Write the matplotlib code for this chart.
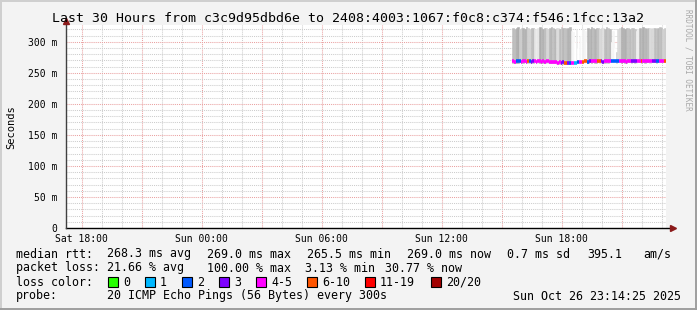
import matplotlib
matplotlib.use('Agg')
import matplotlib.pyplot as plt
from matplotlib.lines import Line2D
from matplotlib.patches import Rectangle
import numpy as np

W, H = 697, 310
MONO = 'DejaVu Sans Mono'

# ---------------- data ----------------
title = "Last 30 Hours from c3c9d95dbd6e to 2408:4003:1067:f0c8:c374:f546:1fcc:13a2"
view_start_h = 17.225          # hours since Sat 00:00 (left edge of graph)
view_len_h = 30.0
first_sample_h = 39.575        # hours since Sat 00:00 of first sample
step_min = 5

median_ms = [268.4, 268.2, 268.5, 268.3, 268.6, 268.1, 268.4, 268.7, 268.2, 268.5,
             268.3, 268.0, 268.4, 268.6, 268.2, 268.5, 268.3, 268.1, 268.4, 268.2,
             268.6, 268.3, 268.0, 267.8, 267.5, 267.2, 266.8, 266.5, 266.7, 266.3,
             266.6, 266.2, 266.0, 265.8, 266.1, 265.7, 265.5, 265.9, 266.2, 266.6,
             267.0, 267.5, 268.0, 268.3, 268.5, 268.2, 268.6, 268.4, 268.7, 268.3,
             268.5, 268.8, 268.4, 268.6, 268.2, 268.5, 268.7, 268.3, 268.6, 268.4,
             268.8, 268.5, 268.3, 268.6, 268.9, 268.4, 268.7, 268.5, 268.2, 268.6,
             268.8, 268.4, 268.7, 268.5, 268.3, 268.6, 268.9, 268.5, 268.7, 268.4,
             268.6, 268.8, 268.5, 268.7, 268.9, 268.6, 268.4, 268.8, 268.7, 268.9,
             269.0, 269.0]

loss_count = [4, 4, 2, 2, 2, 5, 4, 5, 4, 7,
              2, 3, 3, 4, 5, 4, 4, 5, 4, 4,
              5, 4, 4, 5, 4, 5, 4, 4, 5, 3,
              3, 7, 8, 3, 2, 4, 5, 1, 1, 2,
              4, 4, 8, 7, 8, 2, 3, 4, 5, 4,
              5, 7, 7, 3, 3, 5, 4, 5, 4, 2,
              2, 2, 2, 2, 4, 5, 5, 4, 5, 4,
              4, 3, 3, 3, 3, 4, 5, 8, 4, 5,
              4, 4, 5, 4, 3, 3, 2, 2, 4, 5,
              4, 6]

smoke_top_ms = [322, 321, 322, 323, 321, 322, 322, 321, 323, 322,
                321, 322, 322, 320, 321, 322, 323, 322, 321, 322,
                322, 321, 322, 323, 322, 321, 322, 322, 321, 323,
                322, 322, 321, 322, 323, 318, 316, 300, 320, 290,
                310, 319, 321, 318, 300, 322, 321, 323, 322, 321,
                322, 322, 321, 322, 322, 321, 323, 322, 321, 300,
                318, 290, 284, 321, 322, 323, 322, 321, 322, 322,
                321, 322, 322, 321, 318, 320, 322, 321, 323, 322,
                321, 322, 322, 321, 322, 322, 321, 322, 323, 322,
                321, 322]

smoke_gray = [0.74, 0.74, 0.68, 0.68, 0.80, 0.80, 0.70, 0.70, 0.70, 0.82,
              0.82, 0.74, 0.74, 0.90, 0.92, 0.90, 0.68, 0.72, 0.70, 0.75,
              0.84, 0.84, 0.72, 0.70, 0.76, 0.72, 0.86, 0.86, 0.74, 0.78,
              0.72, 0.76, 0.74, 0.70, 0.70, 0.94, 0.97, 1.00, 0.93, 1.00,
              0.97, 1.00, 0.94, 0.96, 1.00, 0.70, 0.72, 0.68, 0.74, 0.70,
              0.72, 0.76, 0.85, 0.84, 0.88, 0.74, 0.72, 0.76, 0.73, 1.00,
              0.96, 1.00, 0.80, 0.86, 0.84, 0.68, 0.70, 0.69, 0.71, 0.76,
              0.74, 0.78, 0.75, 0.77, 0.95, 0.93, 0.70, 0.73, 0.69, 0.72,
              0.70, 0.74, 0.86, 0.84, 0.85, 0.74, 0.76, 0.72, 0.75, 0.73,
              0.82, 0.80]

loss_labels = ['0', '1', '2', '3', '4-5', '6-10', '11-19', '20/20']
loss_upper = [0, 1, 2, 3, 5, 10, 19, 20]
loss_colors = ['#26ff00', '#00b8ff', '#0059ff', '#7e00ff', '#ff00ff', '#ff5500', '#ff0000', '#a10000']

x_tick_hours = [18, 24, 30, 36, 42]
x_tick_labels = ['Sat 18:00', 'Sun 00:00', 'Sun 06:00', 'Sun 12:00', 'Sun 18:00']
y_ticks = [0, 50, 100, 150, 200, 250, 300]
y_tick_labels = ['0', '50 m', '100 m', '150 m', '200 m', '250 m', '300 m']
y_max = 327

legend_rows = [
    [(16, 'median rtt:'), (107, '268.3 ms avg'), (207, '269.0 ms max'), (307, '265.5 ms min'),
     (407, '269.0 ms now'), (507, '0.7 ms sd'), (587, '395.1'), (643, 'am/s')],
    [(16, 'packet loss:'), (107, '21.66 % avg'), (207, '100.00 % max'), (305, '3.13 % min'),
     (385, '30.77 % now')],
    [(16, 'loss color:')],
    [(16, 'probe:'), (107, '20 ICMP Echo Pings (56 Bytes) every 300s'), (513, 'Sun Oct 26 23:14:25 2025')],
]
legend_box_x = [108, 145, 182, 219, 256, 307, 365, 431]

# ---------------- figure ----------------
fig = plt.figure(figsize=(W / 100, H / 100), dpi=100)
fig.patch.set_facecolor('#f3f3f3')


def fx(x):
    return x / W


def fy(y):
    return 1 - y / H


ax_l, ax_r, ax_t, ax_b = 66, 666, 25, 228
ax = fig.add_axes([fx(ax_l), fy(ax_b), (ax_r - ax_l) / W, (ax_b - ax_t) / H])
ax.set_facecolor('white')
ax.set_xlim(view_start_h, view_start_h + view_len_h)
ax.set_ylim(0, y_max)
for s in ax.spines.values():
    s.set_visible(False)

# grid
dot = (0, (1, 1))
minor_col = '#cdcdcd'
major_col = '#eaa2a2'
for h in np.arange(np.ceil(view_start_h), view_start_h + view_len_h, 1.0):
    if int(h) % 3 != 0:
        ax.axvline(h, color=minor_col, lw=0.75, ls=dot, zorder=1)
for h in np.arange(np.ceil(view_start_h / 3) * 3, view_start_h + view_len_h, 3.0):
    ax.axvline(h, color=major_col, lw=0.75, ls=dot, zorder=1)
for v in range(10, y_max, 10):
    if v % 50 != 0:
        ax.axhline(v, color=minor_col, lw=0.75, ls=dot, zorder=1)
for v in range(50, y_max, 50):
    ax.axhline(v, color=major_col, lw=0.75, ls=dot, zorder=1)

# smoke + median
n = len(median_ms)
step_h = step_min / 60.0
t = first_sample_h + np.arange(n) * step_h
med = np.array(median_ms)
top = np.array(smoke_top_ms)
low = med - 2.0
grays = [(g, g, g) for g in smoke_gray]
ax.bar(t, top - low, bottom=low, width=step_h, color=grays, edgecolor=grays, linewidth=0.4,
       align='center', zorder=2)


def loss_color(c):
    for up, col in zip(loss_upper, loss_colors):
        if c <= up:
            return col
    return loss_colors[-1]


cols = [loss_color(c) for c in loss_count]
ax.hlines(med, t - step_h / 2, t + step_h / 2, colors=cols, lw=2.6, zorder=3)

# ticks
ax.set_xticks(x_tick_hours)
ax.set_xticklabels(x_tick_labels, fontfamily=MONO, fontsize=7)
ax.set_yticks(y_ticks)
ax.set_yticklabels(y_tick_labels, fontfamily=MONO, fontsize=7)
ax.tick_params(axis='x', length=0, pad=4)
ax.tick_params(axis='y', length=0, pad=6)

# axis lines with arrows
ax.plot([0, 1.012], [0, 0], transform=ax.transAxes, color='#000000', lw=1.0, clip_on=False, zorder=5)
ax.plot([0, 0], [0, 1.02], transform=ax.transAxes, color='#404040', lw=1.0, clip_on=False, zorder=5)
ax.plot([1.012], [0], transform=ax.transAxes, marker='>', ms=4.5, color='#8b1a1a', clip_on=False, zorder=6)
ax.plot([0], [1.02], transform=ax.transAxes, marker='^', ms=4.5, color='#8b1a1a', clip_on=False, zorder=6)

# texts
fig.text(fx(348), fy(19), title, ha='center', va='center', fontsize=9.55, fontfamily=MONO)
fig.text(fx(11), fy(127), 'Seconds', ha='center', va='center', rotation=90, fontsize=7.5, fontfamily=MONO)
fig.text(fx(688), fy(60), 'RRDTOOL / TOBI OETIKER', ha='center', va='center', rotation=270,
         fontsize=5.5, fontfamily=MONO, color='#a8a8a8')

row_y = [254, 268, 282, 296]
for ry, items in zip(row_y, legend_rows):
    for x, s in items:
        fig.text(fx(x), fy(ry), s, ha='left', va='center', fontsize=8.4, fontfamily=MONO)

for bx, lab, col in zip(legend_box_x, loss_labels, loss_colors):
    fig.add_artist(Rectangle((fx(bx), fy(287)), 10 / W, 10 / H, transform=fig.transFigure,
                             facecolor=col, edgecolor='black', lw=0.8))
    fig.text(fx(bx + 15), fy(282), lab, ha='left', va='center', fontsize=8.4, fontfamily=MONO)

# frame (3d look)
fig.add_artist(Line2D([0, 1], [fy(0.5), fy(0.5)], transform=fig.transFigure, color='#cfcfcf', lw=1.4))
fig.add_artist(Line2D([fx(0.5), fx(0.5)], [0, 1], transform=fig.transFigure, color='#cfcfcf', lw=1.4))
fig.add_artist(Line2D([0, 1], [fy(309), fy(309)], transform=fig.transFigure, color='#9e9e9e', lw=1.4))
fig.add_artist(Line2D([fx(696), fx(696)], [0, 1], transform=fig.transFigure, color='#9e9e9e', lw=1.4))

fig.savefig('out.png', dpi=100, facecolor=fig.get_facecolor())
